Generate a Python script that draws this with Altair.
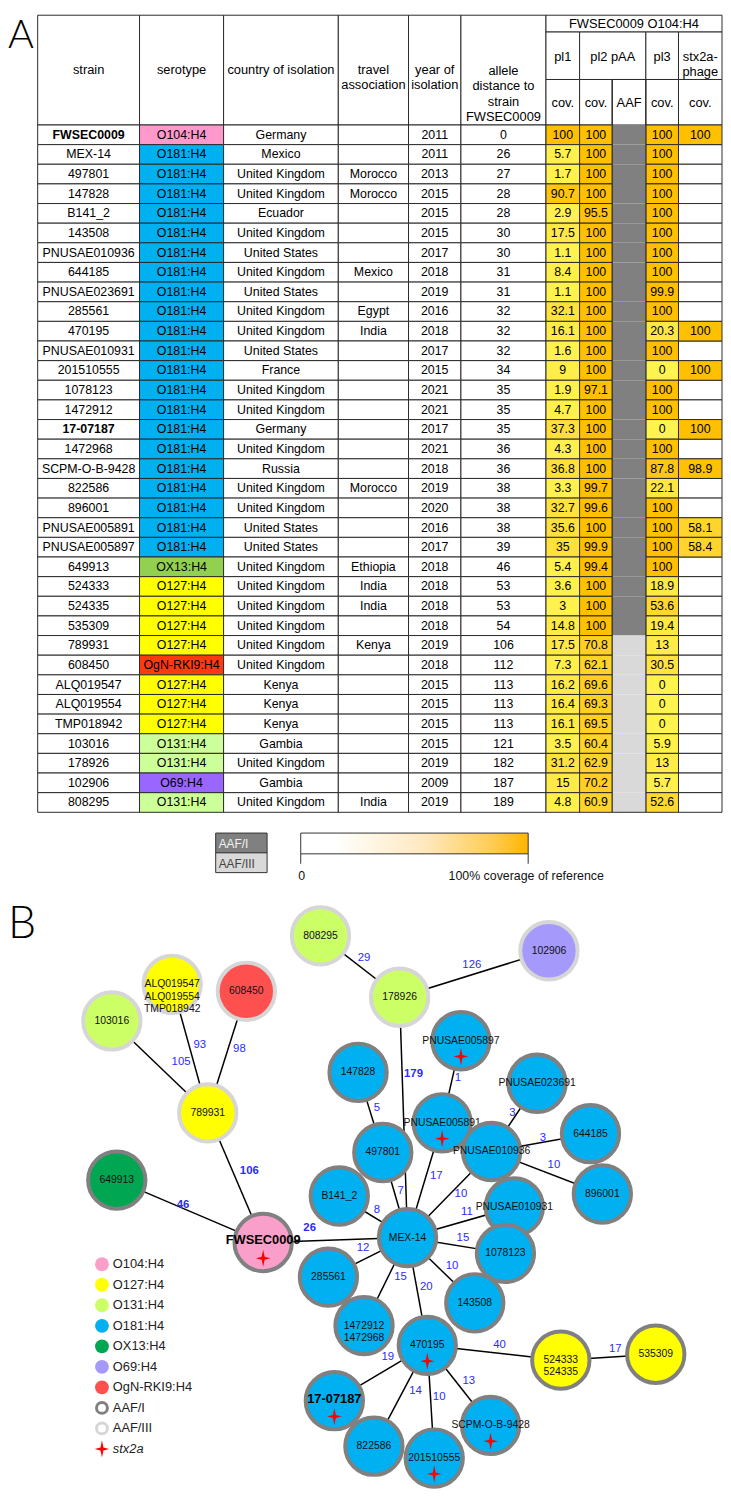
import altair as alt
import pandas as pd

# ============================ DATA: panel A table ============================
strains = ["FWSEC0009", "MEX-14", "497801", "147828", "B141_2", "143508", "PNUSAE010936",
           "644185", "PNUSAE023691", "285561", "470195", "PNUSAE010931", "201510555",
           "1078123", "1472912", "17-07187", "1472968", "SCPM-O-B-9428", "822586", "896001",
           "PNUSAE005891", "PNUSAE005897", "649913", "524333", "524335", "535309", "789931",
           "608450", "ALQ019547", "ALQ019554", "TMP018942", "103016", "178926", "102906", "808295"]
serotypes = (["O104:H4"] + ["O181:H4"] * 21 + ["OX13:H4"] + ["O127:H4"] * 4 + ["OgN-RKI9:H4"]
             + ["O127:H4"] * 3 + ["O131:H4", "O131:H4", "O69:H4", "O131:H4"])
countries = ["Germany", "Mexico", "United Kingdom", "United Kingdom", "Ecuador", "United Kingdom",
             "United States", "United Kingdom", "United States", "United Kingdom", "United Kingdom",
             "United States", "France", "United Kingdom", "United Kingdom", "Germany", "United Kingdom",
             "Russia", "United Kingdom", "United Kingdom", "United States", "United States",
             "United Kingdom", "United Kingdom", "United Kingdom", "United Kingdom", "United Kingdom",
             "United Kingdom", "Kenya", "Kenya", "Kenya", "Gambia", "United Kingdom", "Gambia",
             "United Kingdom"]
travel = ["", "", "Morocco", "Morocco", "", "", "", "Mexico", "", "Egypt", "India", "", "", "", "",
          "", "", "", "Morocco", "", "", "", "Ethiopia", "India", "India", "", "Kenya", "", "", "",
          "", "", "", "", "India"]
years = [2011, 2011, 2013, 2015, 2015, 2015, 2017, 2018, 2019, 2016, 2018, 2017, 2015, 2021, 2021,
         2017, 2021, 2018, 2019, 2020, 2016, 2017, 2018, 2018, 2018, 2018, 2019, 2018, 2015, 2015,
         2015, 2015, 2019, 2009, 2019]
allele_dist = [0, 26, 27, 28, 28, 30, 30, 31, 31, 32, 32, 32, 34, 35, 35, 35, 36, 36, 38, 38, 38, 39,
               46, 53, 53, 54, 106, 112, 113, 113, 113, 121, 182, 187, 189]
pl1_cov = [100, 5.7, 1.7, 90.7, 2.9, 17.5, 1.1, 8.4, 1.1, 32.1, 16.1, 1.6, 9, 1.9, 4.7, 37.3, 4.3,
           36.8, 3.3, 32.7, 35.6, 35, 5.4, 3.6, 3, 14.8, 17.5, 7.3, 16.2, 16.4, 16.1, 3.5, 31.2, 15, 4.8]
pl2_cov = [100, 100, 100, 100, 95.5, 100, 100, 100, 100, 100, 100, 100, 100, 97.1, 100, 100, 100,
           100, 99.7, 99.6, 100, 99.9, 99.4, 100, 100, 100, 70.8, 62.1, 69.6, 69.3, 69.5, 60.4, 62.9,
           70.2, 60.9]
aaf_type = ["I"] * 26 + ["III"] * 9
pl3_cov = [100, 100, 100, 100, 100, 100, 100, 100, 99.9, 100, 20.3, 100, 0, 100, 100, 0, 100, 87.8,
           22.1, 100, 100, 100, 100, 18.9, 53.6, 19.4, 13, 30.5, 0, 0, 0, 5.9, 13, 5.7, 52.6]
stx2a_cov = [100, None, None, None, None, None, None, None, None, None, 100, None, 100, None, None,
             100, None, 98.9, None, None, 58.1, 58.4, None, None, None, None, None, None, None, None,
             None, None, None, None, None]
bold_strains = ["FWSEC0009", "17-07187"]

# ============================ DATA: panel B network ==========================
node_ids = ["FWSEC0009", "MEX-14", "497801", "147828", "B141_2", "143508", "PNUSAE010936", "644185",
            "PNUSAE023691", "285561", "470195", "PNUSAE010931", "201510555", "1078123", "1472912",
            "17-07187", "SCPM-O-B-9428", "822586", "896001", "PNUSAE005891", "PNUSAE005897",
            "649913", "524333", "535309", "789931", "608450", "ALQ019547", "103016", "178926",
            "102906", "808295"]
node_labels = ["FWSEC0009", "MEX-14", "497801", "147828", "B141_2", "143508", "PNUSAE010936",
               "644185", "PNUSAE023691", "285561", "470195", "PNUSAE010931", "201510555", "1078123",
               "1472912\n1472968", "17-07187", "SCPM-O-B-9428", "822586", "896001", "PNUSAE005891",
               "PNUSAE005897", "649913", "524333\n524335", "535309", "789931", "608450",
               "ALQ019547\nALQ019554\nTMP018942", "103016", "178926", "102906", "808295"]
node_sero = (["O104:H4"] + ["O181:H4"] * 20 + ["OX13:H4", "O127:H4", "O127:H4", "O127:H4",
             "OgN-RKI9:H4", "O127:H4", "O131:H4", "O131:H4", "O69:H4", "O131:H4"])
node_aaf = ["I"] * 24 + ["III"] * 7
node_stx = ["FWSEC0009", "470195", "201510555", "17-07187", "SCPM-O-B-9428", "PNUSAE005891",
            "PNUSAE005897"]

edge_src = ["808295", "178926", "178926", "ALQ019547", "608450", "103016", "789931", "649913",
            "FWSEC0009", "147828", "497801", "PNUSAE005897", "PNUSAE005891", "PNUSAE023691",
            "PNUSAE010936", "PNUSAE010936", "PNUSAE010936", "PNUSAE010931", "B141_2", "1078123",
            "285561", "1472912", "143508", "470195", "470195", "524333", "470195", "470195",
            "470195", "470195"]
edge_dst = ["178926", "102906", "MEX-14", "789931", "789931", "789931", "FWSEC0009", "FWSEC0009",
            "MEX-14", "497801", "MEX-14", "PNUSAE005891", "MEX-14", "PNUSAE010936", "644185",
            "896001", "MEX-14", "MEX-14", "MEX-14", "MEX-14", "MEX-14", "MEX-14", "MEX-14",
            "MEX-14", "524333", "535309", "17-07187", "822586", "201510555", "SCPM-O-B-9428"]
edge_dist = [29, 126, 179, 93, 98, 105, 106, 46, 26, 5, 7, 1, 17, 3, 3, 10, 10, 11, 8, 15, 12, 15,
             10, 20, 40, 17, 19, 14, 10, 13]
bold_edges = [179, 106, 46, 26]

# ============================ LAYOUT (positions) =========
node_x = [266, 412, 387, 362, 343, 480, 497, 597, 543, 332, 432, 520, 439, 511, 368, 338, 496, 378,
          609, 447, 466, 118, 567, 663, 210, 249, 174, 113, 404, 555, 324]
node_y = [1248, 1243, 1157, 1076, 1201, 1309, 1156, 1138, 1087, 1283, 1352, 1212, 1466, 1259, 1332,
          1408, 1433, 1454, 1199, 1127, 1044, 1185, 1367, 1361, 1117, 994, 987, 1024, 1000, 953, 938]
edge_lx = [368, 477, 418, 202, 242, 183, 252, 185, 313, 381, 405, 463, 441, 518, 549, 560, 466, 472,
           381, 468, 367, 405, 457, 431, 505, 622, 392, 420, 444, 474]
edge_ly = [960, 967, 1078, 1048, 1052, 1066, 1176, 1210, 1233, 1112, 1196, 1082, 1181, 1117, 1142,
           1170, 1199, 1217, 1215, 1243, 1254, 1283, 1272, 1293, 1352, 1356, 1364, 1398, 1404, 1388]

COL_EDGES = [38, 141, 226, 342, 413, 466, 552, 586, 619, 653, 686, 730]
TABLE_TOP, HEAD_1, HEAD_2, DATA_TOP, DATA_BOTTOM = 7, 24, 72, 118, 813

# ============================ STYLES =========================================
SERO_CELL = {"O104:H4": "#ff99cc", "O181:H4": "#00b0f0", "OX13:H4": "#92d050", "O127:H4": "#ffff00",
             "OgN-RKI9:H4": "#ff3a10", "O131:H4": "#ccff99", "O69:H4": "#9966ff"}
SERO_NODE = {"O104:H4": "#f99fc9", "O127:H4": "#ffff00", "O131:H4": "#ccff66", "O181:H4": "#00b0f0",
             "OX13:H4": "#00a651", "O69:H4": "#a599fb", "OgN-RKI9:H4": "#ff5050"}
AAF_CELL = {"I": "#808080", "III": "#d9d9d9"}
AAF_RING = {"I": "#808080", "III": "#d6d6d6"}
LINE = "#2a2a2a"
FONT = "Liberation Sans"
EDGE_BLUE = "#2b2bff"
STAR = "M0,-1L0.17,-0.17L0.85,0L0.17,0.17L0,1L-0.17,0.17L-0.85,0L-0.17,-0.17Z"

XS = alt.Scale(domain=[8, 731], nice=False, zero=False)
YS = alt.Scale(domain=[8, 1491], nice=False, zero=False, reverse=True)


def X(f):
    return alt.X(f"{f}:Q", scale=XS, axis=None)


def Y(f):
    return alt.Y(f"{f}:Q", scale=YS, axis=None)


def rect_enc():
    return dict(x=X("x0"), x2="x1:Q", y=Y("y0"), y2="y1:Q")


def fmt(v):
    return f"{v:g}"


# ============================ build table frames =============================
n = len(strains)
RH = (DATA_BOTTOM - DATA_TOP) / n
cx = [(COL_EDGES[i] + COL_EDGES[i + 1]) / 2 for i in range(len(COL_EDGES) - 1)]

plain, cov, aaf, texts, btexts = [], [], [], [], []
for i in range(n):
    y0, y1 = DATA_TOP + i * RH, DATA_TOP + (i + 1) * RH
    yc = (y0 + y1) / 2
    vals = [strains[i], serotypes[i], countries[i], travel[i], str(years[i]), str(allele_dist[i])]
    for c, v in enumerate(vals):
        fill = SERO_CELL[serotypes[i]] if c == 1 else "#ffffff"
        plain.append(dict(x0=COL_EDGES[c], x1=COL_EDGES[c + 1], y0=y0, y1=y1, fill=fill))
        if v:
            (btexts if (c == 0 and v in bold_strains) else texts).append(
                dict(x=cx[c], y=yc, t=v, s=12.5))
    for c, v in [(6, pl1_cov[i]), (7, pl2_cov[i]), (9, pl3_cov[i]), (10, stx2a_cov[i])]:
        if v is None:
            plain.append(dict(x0=COL_EDGES[c], x1=COL_EDGES[c + 1], y0=y0, y1=y1, fill="#ffffff"))
        else:
            cov.append(dict(x0=COL_EDGES[c], x1=COL_EDGES[c + 1], y0=y0, y1=y1, v=v))
            texts.append(dict(x=cx[c], y=yc, t=fmt(v), s=12.5))
    aaf.append(dict(x0=COL_EDGES[8], x1=COL_EDGES[9], y0=y0, y1=y1, fill=AAF_CELL[aaf_type[i]]))

E = COL_EDGES
head_rects = [dict(x0=E[c], x1=E[c + 1], y0=TABLE_TOP, y1=DATA_TOP) for c in range(6)]
head_rects += [dict(x0=E[6], x1=E[11], y0=TABLE_TOP, y1=HEAD_1),
               dict(x0=E[6], x1=E[7], y0=HEAD_1, y1=HEAD_2), dict(x0=E[7], x1=E[9], y0=HEAD_1, y1=HEAD_2),
               dict(x0=E[9], x1=E[10], y0=HEAD_1, y1=HEAD_2), dict(x0=E[10], x1=E[11], y0=HEAD_1, y1=HEAD_2)]
head_rects += [dict(x0=E[c], x1=E[c + 1], y0=HEAD_2, y1=DATA_TOP) for c in range(6, 11)]
hmid = (TABLE_TOP + DATA_TOP) / 2
head_texts = [
    (cx[0], hmid, "strain"), (cx[1], hmid, "serotype"), (cx[2], hmid, "country of isolation"),
    (cx[3], hmid, "travel\nassociation"), (cx[4], hmid, "year of\nisolation"),
    (cx[5], hmid + 1, "allele\ndistance to\nstrain\nFWSEC0009"),
    ((E[6] + E[11]) / 2, (TABLE_TOP + HEAD_1) / 2 + 0.5, "FWSEC0009 O104:H4"),
    (cx[6], (HEAD_1 + HEAD_2) / 2 + 1, "pl1"), ((E[7] + E[9]) / 2, (HEAD_1 + HEAD_2) / 2 + 1, "pl2 pAA"),
    (cx[9], (HEAD_1 + HEAD_2) / 2 + 1, "pl3"), (cx[10], (HEAD_1 + HEAD_2) / 2 + 1, "stx2a-\nphage"),
] + [(cx[c], (HEAD_2 + DATA_TOP) / 2 + 1, t) for c, t in zip(range(6, 11), ["cov.", "cov.", "AAF", "cov.", "cov."])]
head_df = pd.DataFrame([dict(x=a, y=b, t=c) for a, b, c in head_texts])

plain_df, cov_df, aaf_df = pd.DataFrame(plain), pd.DataFrame(cov), pd.DataFrame(aaf)
txt_df, btxt_df = pd.DataFrame(texts), pd.DataFrame(btexts)

layers = []
layers.append(alt.Chart(pd.DataFrame(head_rects)).mark_rect(fill="#ffffff", stroke=LINE, strokeWidth=1)
              .encode(**rect_enc()))
layers.append(alt.Chart(plain_df).mark_rect(stroke=LINE, strokeWidth=1)
              .encode(**rect_enc(), fill=alt.Fill("fill:N", scale=None)))
layers.append(alt.Chart(cov_df).mark_rect(stroke=LINE, strokeWidth=1)
              .encode(**rect_enc(), fill=alt.Fill("v:Q", scale=alt.Scale(domain=[0, 100], range=["#ffffff", "#ffc000"]),
                                                  legend=None)))
layers.append(alt.Chart(aaf_df).mark_rect(strokeWidth=0)
              .encode(**rect_enc(), fill=alt.Fill("fill:N", scale=None)))
layers.append(alt.Chart(pd.DataFrame([dict(x0=E[8], x1=E[9], y0=HEAD_2, y1=DATA_BOTTOM)]))
              .mark_rect(fillOpacity=0, stroke=LINE, strokeWidth=1).encode(**rect_enc()))
layers.append(alt.Chart(head_df).mark_text(font=FONT, fontSize=13, lineBreak="\n", lineHeight=15.5,
                                           baseline="middle", color="#000")
              .encode(x=X("x"), y=Y("y"), text="t:N"))
layers.append(alt.Chart(txt_df).mark_text(font=FONT, baseline="middle", color="#000")
              .encode(x=X("x"), y=Y("y"), text="t:N", size=alt.Size("s:Q", scale=None)))
layers.append(alt.Chart(btxt_df).mark_text(font=FONT, baseline="middle", fontWeight="bold", color="#000")
              .encode(x=X("x"), y=Y("y"), text="t:N", size=alt.Size("s:Q", scale=None)))

# ---- table legend (AAF boxes + coverage gradient)
aaf_leg = pd.DataFrame([dict(x0=218, x1=270, y0=834, y1=854, fill=AAF_CELL["I"], t="AAF/I", tc="#f2f2f2"),
                        dict(x0=218, x1=270, y0=854, y1=874, fill=AAF_CELL["III"], t="AAF/III", tc="#444444")])
aaf_leg["tx"] = 221
aaf_leg["ty"] = (aaf_leg.y0 + aaf_leg.y1) / 2 + 1
layers.append(alt.Chart(aaf_leg).mark_rect(stroke="#333", strokeWidth=1)
              .encode(**rect_enc(), fill=alt.Fill("fill:N", scale=None)))
layers.append(alt.Chart(aaf_leg).mark_text(font=FONT, fontSize=12, align="left", baseline="middle")
              .encode(x=X("tx"), y=Y("ty"), text="t:N", color=alt.Color("tc:N", scale=None)))
grad = alt.Gradient(gradient="linear", x1=0, x2=1, y1=0, y2=0,
                    stops=[alt.GradientStop(color="#ffffff", offset=0),
                           alt.GradientStop(color="#ffffff", offset=0.15),
                           alt.GradientStop(color="#ffe8bd", offset=0.55),
                           alt.GradientStop(color="#ffcb50", offset=0.85),
                           alt.GradientStop(color="#ffb400", offset=1)])
layers.append(alt.Chart(pd.DataFrame([dict(x0=304, x1=534, y0=834, y1=855)]))
              .mark_rect(fill=grad, stroke="#333", strokeWidth=1).encode(**rect_enc()))
layers.append(alt.Chart(pd.DataFrame(dict(x=[304, 534], y0=[855, 855], y1=[865, 865])))
              .mark_rule(color="#333", strokeWidth=1).encode(x=X("x"), y=Y("y0"), y2="y1:Q"))
layers.append(alt.Chart(pd.DataFrame(dict(x=[305, 532], y=[877, 877], t=["0", "100% coverage of reference"])))
              .mark_text(font=FONT, fontSize=12.5, baseline="middle", color="#111")
              .encode(x=X("x"), y=Y("y"), text="t:N"))

# ---- panel letters
layers.append(alt.Chart(pd.DataFrame(dict(x=[8, 8], y=[40, 940], t=["A", "B"], s=[40, 45])))
              .mark_text(font="Lato", fontWeight=300, align="left", baseline="alphabetic", color="#000")
              .encode(x=X("x"), y=Y("y"), text="t:N", size=alt.Size("s:Q", scale=None)))

# ============================ network frames =================================
pos = {k: (x, y) for k, x, y in zip(node_ids, node_x, node_y)}
nodes = pd.DataFrame(dict(id=node_ids, label=node_labels, x=node_x, y=node_y,
                          fill=[SERO_NODE[s] for s in node_sero], ring=[AAF_RING[a] for a in node_aaf]))
nodes["stx"] = nodes.id.isin(node_stx)
nodes["bold"] = nodes.id.isin(bold_strains)
edges = pd.DataFrame(dict(src=edge_src, dst=edge_dst, d=edge_dist, lx=edge_lx, ly=edge_ly))
edges["x0"] = [pos[s][0] for s in edges.src]
edges["y0"] = [pos[s][1] for s in edges.src]
edges["x1"] = [pos[s][0] for s in edges.dst]
edges["y1"] = [pos[s][1] for s in edges.dst]
edges["t"] = edges.d.astype(str)
edges["bold"] = edges.d.isin(bold_edges)

layers.append(alt.Chart(edges).mark_rule(color="#000", strokeWidth=1.5)
              .encode(x=X("x0"), y=Y("y0"), x2="x1:Q", y2="y1:Q"))
layers.append(alt.Chart(edges[~edges.bold]).mark_text(font=FONT, fontSize=11.5, color=EDGE_BLUE, baseline="middle")
              .encode(x=X("lx"), y=Y("ly"), text="t:N"))
layers.append(alt.Chart(edges[edges.bold]).mark_text(font=FONT, fontSize=11.5, fontWeight="bold", color=EDGE_BLUE,
                                                     baseline="middle")
              .encode(x=X("lx"), y=Y("ly"), text="t:N"))

back_ids = ["PNUSAE005891", "PNUSAE010931"]
for group in [nodes[nodes.id.isin(back_ids)], nodes[~nodes.id.isin(back_ids)]]:
    layers.append(alt.Chart(group).mark_point(shape="circle", filled=True, size=3364, strokeWidth=4, opacity=1,
                                              fillOpacity=1, strokeOpacity=1)
                  .encode(x=X("x"), y=Y("y"), fill=alt.Fill("fill:N", scale=None),
                          stroke=alt.Stroke("ring:N", scale=None)))
    g_reg, g_bold = group[~group.bold], group[group.bold]
    if len(g_reg):
        layers.append(alt.Chart(g_reg).mark_text(font=FONT, fontSize=10.5, lineBreak="\n", lineHeight=12.5,
                                                 baseline="middle", color="#111")
                      .encode(x=X("x"), y=Y("y"), text="label:N"))
    if len(g_bold):
        layers.append(alt.Chart(g_bold).mark_text(font=FONT, fontSize=13, fontWeight="bold", baseline="middle",
                                                  color="#000", dy=-2)
                      .encode(x=X("x"), y=Y("y"), text="label:N"))
    g_stx = group[group.stx]
    if len(g_stx):
        layers.append(alt.Chart(g_stx).mark_point(shape=STAR, filled=True, color="#ff0000", size=300, opacity=1,
                                                  yOffset=16)
                      .encode(x=X("x"), y=Y("y")))

# ---- network legend
leg_labels = ["O104:H4", "O127:H4", "O131:H4", "O181:H4", "OX13:H4", "O69:H4", "OgN-RKI9:H4",
              "AAF/I", "AAF/III", "stx2a"]
leg = pd.DataFrame(dict(t=leg_labels))
leg["y"] = [1270 + i * 20.75 for i in range(len(leg))]
leg["x"] = 103
leg["tx"] = 114
sero_leg = leg.iloc[:7].copy()
sero_leg["fill"] = [SERO_NODE[s] for s in sero_leg.t]
ring_leg = leg.iloc[7:9].copy()
ring_leg["ring"] = [AAF_RING["I"], AAF_RING["III"]]
star_leg = leg.iloc[9:].copy()
layers.append(alt.Chart(sero_leg).mark_point(shape="circle", filled=True, size=196, opacity=1, strokeWidth=0)
              .encode(x=X("x"), y=Y("y"), fill=alt.Fill("fill:N", scale=None)))
layers.append(alt.Chart(ring_leg).mark_point(shape="circle", filled=True, size=121, opacity=1, strokeWidth=3,
                                             fill="#ffffff")
              .encode(x=X("x"), y=Y("y"), stroke=alt.Stroke("ring:N", scale=None)))
layers.append(alt.Chart(star_leg).mark_point(shape=STAR, filled=True, color="#ff0000", size=300, opacity=1)
              .encode(x=X("x"), y=Y("y")))
layers.append(alt.Chart(leg.iloc[:9]).mark_text(font=FONT, fontSize=13, align="left", baseline="middle", color="#222")
              .encode(x=X("tx"), y=Y("y"), text="t:N"))
layers.append(alt.Chart(star_leg).mark_text(font=FONT, fontSize=13, fontStyle="italic", align="left",
                                            baseline="middle", color="#222")
              .encode(x=X("tx"), y=Y("y"), text="t:N"))

chart = (alt.layer(*layers)
         .resolve_scale(fill="independent", stroke="independent", color="independent", size="independent")
         .properties(width=723, height=1483, padding=0, autosize=alt.AutoSizeParams(type="none"))
         .configure_view(stroke=None))

chart.save("out.html", embed_options={"renderer": "svg", "actions": False})
